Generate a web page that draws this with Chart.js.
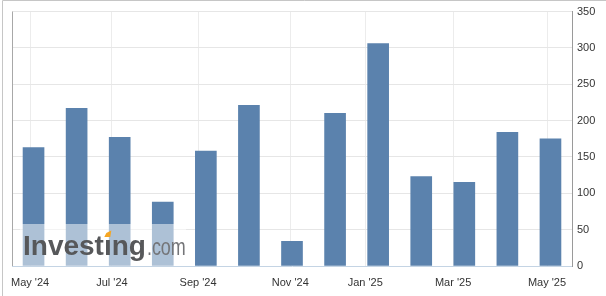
<!DOCTYPE html>
<html lang="en">
<head>
    <meta charset="UTF-8">
    <title>Payrolls</title>
    <script src="https://cdn.jsdelivr.net/npm/chart.js@4"></script>
    <style>
        body {
            margin: 0;
            background-color: #ffffff;
        }
        .chart-wrapper {
            position: relative;
            width: 606px;
            height: 296px;
        }
    </style>
</head>
<body>
    <div class="chart-wrapper">
        <canvas id="payrollChart"></canvas>
    </div>

<script>
// monthly values, one bar per release
const months = ["May '24", "Jun '24", "Jul '24", "Aug '24", "Sep '24", "Oct '24", "Nov '24",
                "Dec '24", "Jan '25", "Feb '25", "Mar '25", "Apr '25", "May '25"];
const payrolls = [163, 217, 177, 88, 158, 221, 34, 210, 306, 123, 115, 184, 175];

// axis labels sit at month starts, a little left of the release bars
const tickLabels = ["May '24", "Jul '24", "Sep '24", "Nov '24", "Jan '25", "Mar '25", "May '25"];
const tickPositions = [-0.08, 1.82, 3.82, 5.96, 7.70, 9.74, 11.92];

const yTicks = [0, 50, 100, 150, 200, 250, 300, 350];

const labelFont = { family: '"Liberation Sans", Arial, sans-serif', size: 11 };

const frameAndLogo = {
    id: 'frameAndLogo',
    afterDatasetsDraw(chart) {
        const ctx = chart.ctx;
        const area = chart.chartArea;
        ctx.save();
        // watermark box lightens what is under it
        ctx.fillStyle = 'rgba(255,255,255,0.5)';
        ctx.fillRect(area.left + 8, area.bottom - 42, 166, 42);

        ctx.textBaseline = 'alphabetic';
        ctx.font = 'bold 28px "Liberation Sans"';
        ctx.fillStyle = '#57585a';
        let x = area.left + 11;
        const base = area.bottom - 11;
        ctx.fillText('Invest', x, base);
        x += ctx.measureText('Invest').width;
        const wI = ctx.measureText('\u0131').width;
        ctx.fillText('\u0131', x, base);
        const dotX = x + wI / 2;
        x += wI;
        ctx.fillText('ng', x, base);
        x += ctx.measureText('ng').width;

        // orange accent in place of the i dot
        ctx.fillStyle = '#f5a623';
        ctx.beginPath();
        ctx.moveTo(dotX - 3.5, base - 18);
        ctx.lineTo(dotX + 2.5, base - 18);
        ctx.lineTo(dotX + 3.5, base - 24.5);
        ctx.lineTo(dotX - 1.5, base - 22);
        ctx.closePath();
        ctx.fill();

        // thin, narrow ".com"
        ctx.font = '23px "Liberation Sans"';
        ctx.fillStyle = '#747578';
        ctx.translate(x + 1, base);
        ctx.scale(0.78, 1);
        ctx.fillText('.com', 0, 0);
        ctx.restore();
    },
    afterDraw(chart) {
        const ctx = chart.ctx;
        const area = chart.chartArea;
        ctx.save();
        ctx.lineWidth = 1;
        // left axis line
        ctx.strokeStyle = '#a8a8a8';
        ctx.beginPath();
        ctx.moveTo(area.left + 0.5, area.top);
        ctx.lineTo(area.left + 0.5, area.bottom);
        ctx.stroke();
        // outer frame, top and left
        ctx.strokeStyle = '#c6c6c6';
        ctx.beginPath();
        ctx.moveTo(2.5, 296);
        ctx.lineTo(2.5, 0.5);
        ctx.lineTo(606, 0.5);
        ctx.stroke();
        ctx.restore();
    }
};

new Chart(document.getElementById('payrollChart'), {
    type: 'bar',
    data: {
        labels: months,
        datasets: [{
            label: 'Payrolls',
            data: payrolls.map((v, i) => ({ x: i, y: v })),
            backgroundColor: '#5b82ad',
            borderWidth: 0,
            barThickness: 21
        }]
    },
    options: {
        responsive: true,
        maintainAspectRatio: false,
        animation: false,
        layout: {
            padding: { left: 12, top: 10, right: 0, bottom: 0 }
        },
        plugins: {
            legend: { display: false },
            tooltip: { enabled: false }
        },
        scales: {
            x: {
                type: 'linear',
                min: -0.5,
                max: 12.5,
                offset: false,
                afterBuildTicks: function(scale) {
                    scale.ticks = tickPositions.map(v => ({ value: v }));
                },
                afterFit: function(scale) {
                    scale.height = 30;
                },
                ticks: {
                    autoSkip: false,
                    maxRotation: 0,
                    padding: 10,
                    color: '#333333',
                    font: labelFont,
                    callback: function(value, index) {
                        return tickLabels[index];
                    }
                },
                grid: {
                    offset: false,
                    color: '#ececec',
                    drawTicks: false
                },
                border: { color: '#c4d4e4' }
            },
            y: {
                position: 'right',
                min: 0,
                max: 350,
                afterBuildTicks: function(scale) {
                    scale.ticks = yTicks.map(v => ({ value: v }));
                },
                afterFit: function(scale) {
                    scale.width = 34;
                },
                ticks: {
                    padding: 5,
                    color: '#333333',
                    font: labelFont
                },
                grid: {
                    color: ctx => ctx.tick && ctx.tick.value === 0 ? 'rgba(0,0,0,0)' : '#e6e6e6',
                    drawTicks: false
                },
                border: { color: '#9a9a9a' }
            }
        }
    },
    plugins: [frameAndLogo]
});
</script>
</body>
</html>
